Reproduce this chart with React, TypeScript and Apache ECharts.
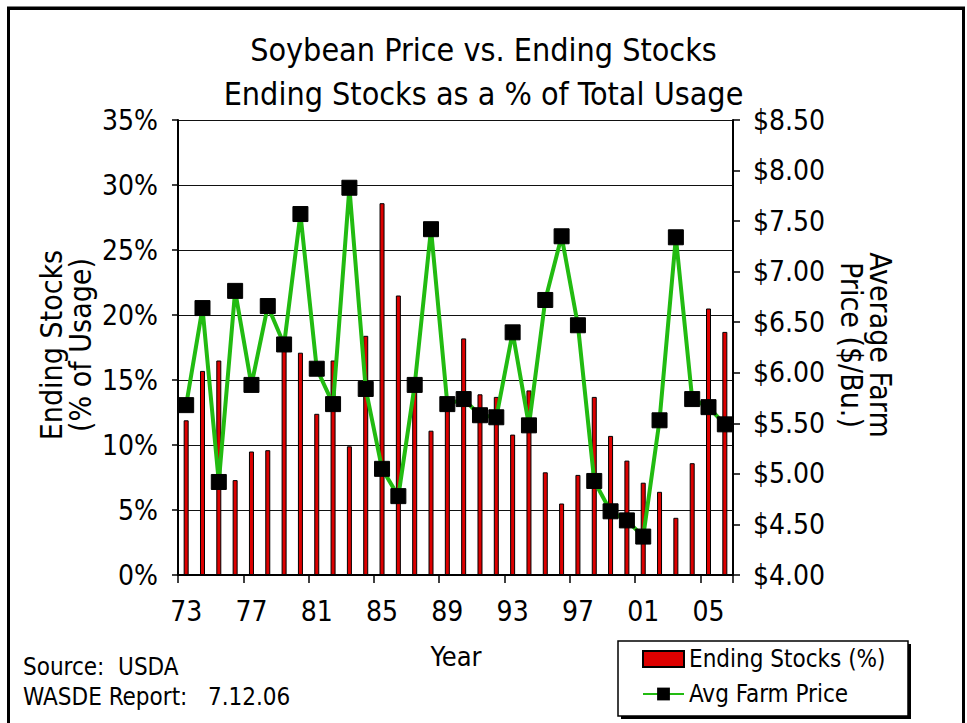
import React, { useEffect, useRef } from "react";
import * as echarts from "echarts";

const years = ["73","74","75","76","77","78","79","80","81","82","83","84","85","86","87","88","89","90","91","92","93","94","95","96","97","98","99","00","01","02","03","04","05","06"];
const endingStocks = [11.9,15.7,16.5,7.3,9.5,9.6,17.5,17.1,12.4,16.5,9.9,18.4,28.6,21.5,14.6,11.1,13.2,18.2,13.9,13.7,10.8,14.2,7.9,5.5,7.7,13.7,10.7,8.8,7.1,6.4,4.4,8.6,20.5,18.7];
const farmPrice = [5.68,6.64,4.92,6.81,5.88,6.66,6.28,7.57,6.04,5.69,7.83,5.84,5.05,4.78,5.88,7.42,5.69,5.74,5.58,5.56,6.40,5.48,6.72,7.35,6.47,4.93,4.63,4.54,4.38,5.53,7.34,5.74,5.66,5.49];
const titleLines = ["Soybean Price vs. Ending Stocks", "Ending Stocks as a % of Total Usage"];
const seriesNames = ["Ending Stocks (%)", "Avg Farm Price"];

const FONT = "'DejaVu Sans Condensed', 'Liberation Sans', sans-serif";

export default function App() {
  const ref = useRef<HTMLDivElement>(null);
  useEffect(() => {
    document.body.style.margin = "0";
    const chart = echarts.init(ref.current!, null, { renderer: "svg" });
    chart.setOption({
      animation: false,
      backgroundColor: "#fff",
      textStyle: { fontFamily: FONT, color: "#000" },
      title: {
        text: titleLines.join("\n"),
        left: "center",
        top: 23,
        textStyle: { fontFamily: FONT, fontSize: 32, fontWeight: "normal", color: "#000", lineHeight: 44 },
      },
      grid: { left: 178, right: 234, top: 120, bottom: 148, containLabel: false },
      legend: {
        orient: "vertical",
        left: 642,
        top: 647,
        padding: 0,
        itemWidth: 41,
        itemHeight: 16,
        itemGap: 11,
        z: 20,
        textStyle: { fontFamily: FONT, fontSize: 24, color: "#000" },
        data: [{ name: seriesNames[0], icon: "rect" }, { name: seriesNames[1] }],
      },
      xAxis: {
        type: "category",
        data: years,
        boundaryGap: true,
        axisLine: { show: true, lineStyle: { color: "#000", width: 2 } },
        axisTick: { show: true, interval: 3, length: 8, lineStyle: { color: "#000", width: 1.5 } },
        axisLabel: { interval: 3, margin: 22, fontSize: 28, fontFamily: FONT, color: "#000" },
        splitLine: { show: false },
      },
      yAxis: [
        {
          type: "value",
          min: 0,
          max: 35,
          interval: 5,
          axisLine: { show: true, lineStyle: { color: "#000", width: 2 } },
          axisTick: { show: true, length: 6, lineStyle: { color: "#000", width: 1.5 } },
          axisLabel: { formatter: "{value}%", margin: 20, fontSize: 28, fontFamily: FONT, color: "#000" },
          splitLine: { show: true, lineStyle: { color: "#111", width: 1.2 } },
        },
        {
          type: "value",
          min: 4,
          max: 8.5,
          interval: 0.5,
          position: "right",
          axisLine: { show: true, lineStyle: { color: "#000", width: 2 } },
          axisTick: { show: true, length: 7, lineStyle: { color: "#000", width: 1.5 } },
          axisLabel: { formatter: (v: number) => "$" + v.toFixed(2), margin: 20, fontSize: 28, fontFamily: FONT, color: "#000" },
          splitLine: { show: false },
        },
      ],
      series: [
        {
          name: seriesNames[0],
          type: "bar",
          data: endingStocks,
          barWidth: 5,
          itemStyle: { color: "#dd0000", borderColor: "#000", borderWidth: 1 },
          z: 2,
        },
        {
          name: seriesNames[1],
          type: "line",
          yAxisIndex: 1,
          data: farmPrice,
          symbol: "rect",
          symbolSize: 15,
          showAllSymbol: true,
          lineStyle: { color: "#22bb11", width: 4 },
          itemStyle: { color: "#000", borderColor: "#000" },
          z: 3,
        },
      ],
      graphic: [
        { type: "rect", z: 0, silent: true, shape: { x: 8.5, y: 8, width: 955, height: 740 }, style: { fill: "none", stroke: "#000", lineWidth: 3 } },
        { type: "rect", z: 0, silent: true, shape: { x: 8, y: 7, width: 956, height: 3 }, style: { fill: "#000" } },
        {
          type: "text", z: 5, x: 66, y: 345, rotation: Math.PI / 2,
          style: { text: "Ending Stocks\n(% of Usage)", fontSize: 30, fontFamily: FONT, fill: "#000", textAlign: "center", textVerticalAlign: "middle", lineHeight: 29 },
        },
        {
          type: "text", z: 5, x: 866, y: 345, rotation: -Math.PI / 2,
          style: { text: "Average Farm\nPrice ($/Bu.)", fontSize: 30, fontFamily: FONT, fill: "#000", textAlign: "center", textVerticalAlign: "middle", lineHeight: 29 },
        },
        {
          type: "text", z: 5, x: 456, y: 656,
          style: { text: "Year", fontSize: 27, fontFamily: FONT, fill: "#000", textAlign: "center", textVerticalAlign: "middle" },
        },
        {
          type: "text", z: 5, x: 23, y: 667,
          style: { text: "Source:  USDA", fontSize: 24, fontFamily: FONT, fill: "#000", textAlign: "left", textVerticalAlign: "middle" },
        },
        {
          type: "text", z: 5, x: 23, y: 697,
          style: { text: "WASDE Report:   7.12.06", fontSize: 24, fontFamily: FONT, fill: "#000", textAlign: "left", textVerticalAlign: "middle" },
        },
        { type: "rect", z: 1, silent: true, shape: { x: 621, y: 644, width: 290, height: 75 }, style: { fill: "#000" } },
        { type: "rect", z: 2, silent: true, shape: { x: 618, y: 641, width: 290, height: 75 }, style: { fill: "#fff", stroke: "#000", lineWidth: 1.5 } },
      ],
    });
    return () => chart.dispose();
  }, []);
  return <div ref={ref} style={{ width: 967, height: 723 }} />;
}
